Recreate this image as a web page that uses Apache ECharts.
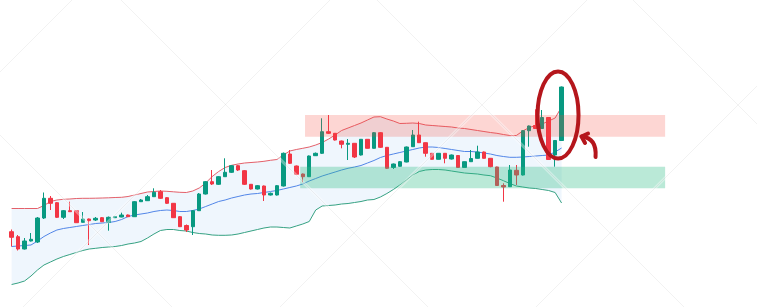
<!DOCTYPE html>
<html>
<head>
<meta charset="utf-8">
<script src="https://cdn.jsdelivr.net/npm/echarts@6/dist/echarts.min.js"></script>
<style>
html,body{margin:0;padding:0;background:#ffffff;}
#chart{width:757px;height:307px;}
</style>
</head>
<body>
<div id="chart"></div>
<script>
// Candles: [open, close, low, high]
const candles = [
[101.83,101.27,100.35,102.05],[101.33,100.10,99.95,101.50],[100.10,100.90,100.05,101.20],[100.90,101.07,100.85,101.70],
[100.80,103.20,100.70,103.30],[103.20,105.17,103.10,105.75],[105.17,104.67,104.00,105.40],[104.73,103.27,103.20,104.80],
[103.27,103.93,103.10,104.00],[103.93,103.83,103.80,104.83],[103.93,102.73,102.70,103.95],[102.77,103.10,102.75,103.80],
[103.10,102.93,100.50,103.15],[103.00,103.17,102.90,103.30],[103.23,102.83,102.80,103.30],[102.77,103.27,101.93,103.35],
[103.23,103.33,103.20,103.40],[103.30,103.50,103.27,103.73],[103.50,103.33,103.30,103.55],[103.33,104.83,103.30,104.90],
[104.83,105.00,104.80,105.10],[104.93,105.33,104.90,105.50],[105.33,105.77,105.30,106.17],[105.83,105.17,105.10,106.00],
[105.23,104.67,104.60,105.30],[104.67,103.23,103.20,104.70],[103.33,102.33,102.30,103.40],[102.45,102.00,101.80,102.55],
[102.33,103.93,101.50,104.00],[103.93,105.60,103.90,105.70],[105.60,106.83,105.55,106.90],[106.83,106.60,106.50,108.00],
[106.57,107.33,106.50,107.40],[107.33,107.77,107.30,109.17],[107.77,108.43,107.70,108.50],[108.43,108.00,107.90,108.50],
[107.93,106.57,106.50,108.00],[106.57,106.10,106.05,106.60],[106.10,106.43,106.05,106.50],[106.40,105.50,104.90,106.45],
[105.50,105.67,105.45,105.75],[105.50,106.43,105.45,106.50],[106.40,109.67,106.35,109.75],[109.60,108.67,108.60,110.00],
[108.40,107.57,107.50,108.45],[107.60,107.33,106.77,107.65],[107.33,109.40,107.30,109.45],[109.43,109.67,109.40,109.75],
[109.67,111.83,109.60,113.17],[111.83,111.67,111.60,113.50],[111.67,111.00,110.95,111.70],[110.90,110.57,110.17,110.95],
[110.57,110.67,109.00,111.10],[110.67,109.30,109.20,110.70],[109.50,111.07,109.45,111.10],[111.07,110.17,110.15,111.10],
[110.17,111.73,110.15,111.80],[111.73,110.27,110.20,111.80],[110.27,108.17,108.10,110.30],[108.25,108.60,108.10,108.65],
[108.37,108.83,108.33,108.90],[108.80,110.30,108.77,110.35],[110.33,111.50,110.30,112.00],[111.50,110.73,110.70,112.83],
[110.73,109.67,109.33,110.75],[109.67,109.07,109.05,109.70],[109.07,109.67,109.05,109.70],[109.67,109.17,108.67,109.70],
[109.10,109.50,109.05,109.55],[109.45,108.25,108.20,109.50],[108.25,108.83,108.20,108.85],[108.83,109.15,108.80,110.00],
[109.17,109.80,109.15,110.43],[109.80,109.17,109.15,109.85],[109.17,108.33,108.27,109.20],[108.30,106.45,106.40,108.33],
[106.45,106.30,104.83,106.67],[106.33,108.00,106.30,108.50],[107.97,107.50,106.50,108.50],[107.50,111.93,107.45,112.00],
[111.93,112.40,110.33,112.45],[112.45,112.15,112.10,114.07],[112.15,113.25,112.10,114.00],[113.25,109.05,109.00,113.30],
[109.50,110.95,108.33,111.00],[110.95,116.30,110.90,116.35]
];

const bbUpper = [
104.15,104.15,104.15,104.15,104.15,104.45,104.85,105.00,105.07,105.10,105.15,105.17,105.17,105.18,105.20,105.22,
105.25,105.27,105.35,105.50,105.65,105.80,105.85,105.90,105.87,105.82,105.77,105.75,105.90,106.20,106.70,107.35,
107.85,108.25,108.47,108.60,108.70,108.75,108.80,108.87,108.97,109.05,109.50,109.90,110.05,110.17,110.30,110.50,
110.75,111.10,111.50,111.95,112.20,112.45,112.70,113.00,113.30,113.33,113.10,112.90,112.65,112.67,112.70,112.65,
112.50,112.45,112.40,112.35,112.30,112.20,112.15,112.05,111.95,111.85,111.75,111.67,111.55,111.45,111.45,111.90,
112.25,112.45,112.60,112.90,113.20,114.30
];

const bbMiddle = [
100.35,100.40,100.45,100.50,100.90,101.35,101.70,102.00,102.15,102.25,102.35,102.45,102.55,102.65,102.70,102.75,
102.85,103.05,103.35,103.50,103.60,103.70,103.85,103.95,104.00,103.95,103.85,103.85,103.95,104.10,104.35,104.60,
104.85,105.00,105.20,105.35,105.50,105.60,105.65,105.75,105.85,105.95,106.10,106.25,106.40,106.60,106.90,107.15,
107.40,107.60,107.80,108.00,108.17,108.30,108.45,108.70,108.95,109.25,109.45,109.60,109.75,109.90,110.05,110.20,
110.30,110.30,110.25,110.15,110.05,109.95,109.85,109.85,109.80,109.70,109.60,109.45,109.35,109.27,109.27,109.30,
109.35,109.40,109.45,109.50,109.80,110.20
];

const bbLower = [
96.55,96.70,96.90,97.40,98.00,98.50,98.80,99.10,99.35,99.55,99.75,99.95,100.10,100.17,100.25,100.30,
100.35,100.45,100.60,100.70,100.85,101.20,101.60,101.95,102.05,102.05,101.95,101.90,101.75,101.65,101.60,101.50,
101.47,101.47,101.50,101.60,101.75,101.90,102.05,102.20,102.30,102.30,102.25,102.20,102.40,102.60,102.85,104.00,
104.40,104.45,104.50,104.60,104.65,104.75,104.85,105.00,105.05,105.30,105.65,106.05,106.50,107.00,107.50,107.85,
108.00,108.05,108.05,108.00,107.90,107.80,107.70,107.65,107.60,107.50,107.43,107.20,106.93,106.65,106.40,106.30,
106.20,106.15,106.05,105.95,105.75,104.70
];

// Highlighted zones: [fromIndex, toIndex, lowPrice, highPrice]
const resistanceZone = [45.35, 101.0, 111.33, 113.50];
const supportZone = [44.6, 101.0, 106.17, 108.33];

// Hand-drawn annotation anchor: [index, price]
const annotationAnchor = [84.45, 113.50];

const UP = '#089981', DOWN = '#f23645';

const chart = echarts.init(document.getElementById('chart'), null, {renderer: 'canvas'});

const candleData = candles.map((c, i) => [i, c[0], c[1], c[2], c[3]]);
const upperData = bbUpper.map((v, i) => [i, v]);
const middleData = bbMiddle.map((v, i) => [i, v]);
const lowerData = bbLower.map((v, i) => [i, v]);

// faint background watermark lattice (decoration, pixel space)
const W = 757, H = 307;
const wmLines = [];
[-135, 121, 377, 633].forEach(c => wmLines.push([c, 0, c + H, H]));       // x - y = c
[72, 330, 587, 843].forEach(d => wmLines.push([d, 0, d - H, H]));         // x + y = d
const wmGraphics = [];
wmLines.forEach(l => {
  wmGraphics.push({type: 'line', silent: true, z: 50,
    shape: {x1: l[0], y1: l[1], x2: l[2], y2: l[3]},
    style: {stroke: 'rgba(255,255,255,0.38)', lineWidth: 3}});
  wmGraphics.push({type: 'line', silent: true, z: 51,
    shape: {x1: l[0], y1: l[1], x2: l[2], y2: l[3]},
    style: {stroke: 'rgba(0,0,0,0.05)', lineWidth: 1}});
});

chart.setOption({
  animation: false,
  backgroundColor: '#ffffff',
  grid: {left: 0, right: 0, top: 0, bottom: 0},
  xAxis: {type: 'value', min: -1.793, max: 115.2, show: false, splitLine: {show: false}},
  yAxis: {type: 'value', min: 94.3, max: 125, show: false, splitLine: {show: false}, scale: true},
  graphic: wmGraphics,
  series: [
    {name: 'BandFill', type: 'custom', z: 1, silent: true,
     encode: {x: 0, y: 1},
     data: [[0, bbMiddle[0]]],
     renderItem: function (params, api) {
       const pts = [];
       for (let i = 0; i < bbUpper.length; i++) pts.push(api.coord([i, bbUpper[i]]));
       for (let i = bbLower.length - 1; i >= 0; i--) pts.push(api.coord([i, bbLower[i]]));
       return {type: 'polygon', shape: {points: pts}, style: {fill: '#eff6fd', stroke: null}};
     }},
    {name: 'Upper', type: 'line', data: upperData, symbol: 'none',
     lineStyle: {color: '#e4606a', width: 1}, z: 2},
    {name: 'Middle', type: 'line', data: middleData, symbol: 'none',
     lineStyle: {color: '#5286e8', width: 1}, z: 2},
    {name: 'Lower', type: 'line', data: lowerData, symbol: 'none',
     lineStyle: {color: '#36a283', width: 1}, z: 2},
    {name: 'Price', type: 'candlestick', data: candleData, encode: {x: 0, y: [1, 2, 3, 4]},
     barWidth: 4, z: 3,
     itemStyle: {color: UP, color0: DOWN, borderColor: UP, borderColor0: DOWN, borderWidth: 1}},
    {name: 'Zones', type: 'custom', z: 4, silent: true,
     encode: {x: [0, 1], y: [2, 3]},
     data: [
       {value: resistanceZone, itemStyle: {color: 'rgba(244,67,54,0.22)'}},
       {value: supportZone, itemStyle: {color: 'rgba(46,189,133,0.33)'}}
     ],
     renderItem: function (params, api) {
       const p0 = api.coord([api.value(0), api.value(3)]);
       const p1 = api.coord([api.value(1), api.value(2)]);
       return {type: 'rect',
         shape: {x: p0[0], y: p0[1], width: p1[0] - p0[0], height: p1[1] - p0[1]},
         style: {fill: api.visual('color')}};
     }},
    {name: 'Annotation', type: 'custom', z: 60, silent: true,
     encode: {x: 0, y: 1},
     data: [annotationAnchor],
     renderItem: function (params, api) {
       const c = api.coord([api.value(0), api.value(1)]);
       const rx = 20.5, ry = 43.5;
       const col = '#b5161c';
       return {type: 'group', x: c[0], y: c[1], children: [
         {type: 'path', shape: {pathData:
           'M ' + (-rx) + ' 0 A ' + rx + ' ' + ry + ' 0 1 0 ' + rx + ' 0 A ' + rx + ' ' + ry + ' 0 1 0 ' + (-rx) + ' 0 Z'},
          style: {fill: 'none', stroke: col, lineWidth: 4}},
         {type: 'path', shape: {pathData: 'M 23.5 21.5 Q 39 23 37.5 42'},
          style: {fill: 'none', stroke: col, lineWidth: 4, lineCap: 'round'}},
         {type: 'path', shape: {pathData: 'M 30 18.5 L 23.5 21.5 L 27 28'},
          style: {fill: 'none', stroke: col, lineWidth: 4, lineCap: 'round', lineJoin: 'round'}}
       ]};
     }}
  ]
});
</script>
</body>
</html>
